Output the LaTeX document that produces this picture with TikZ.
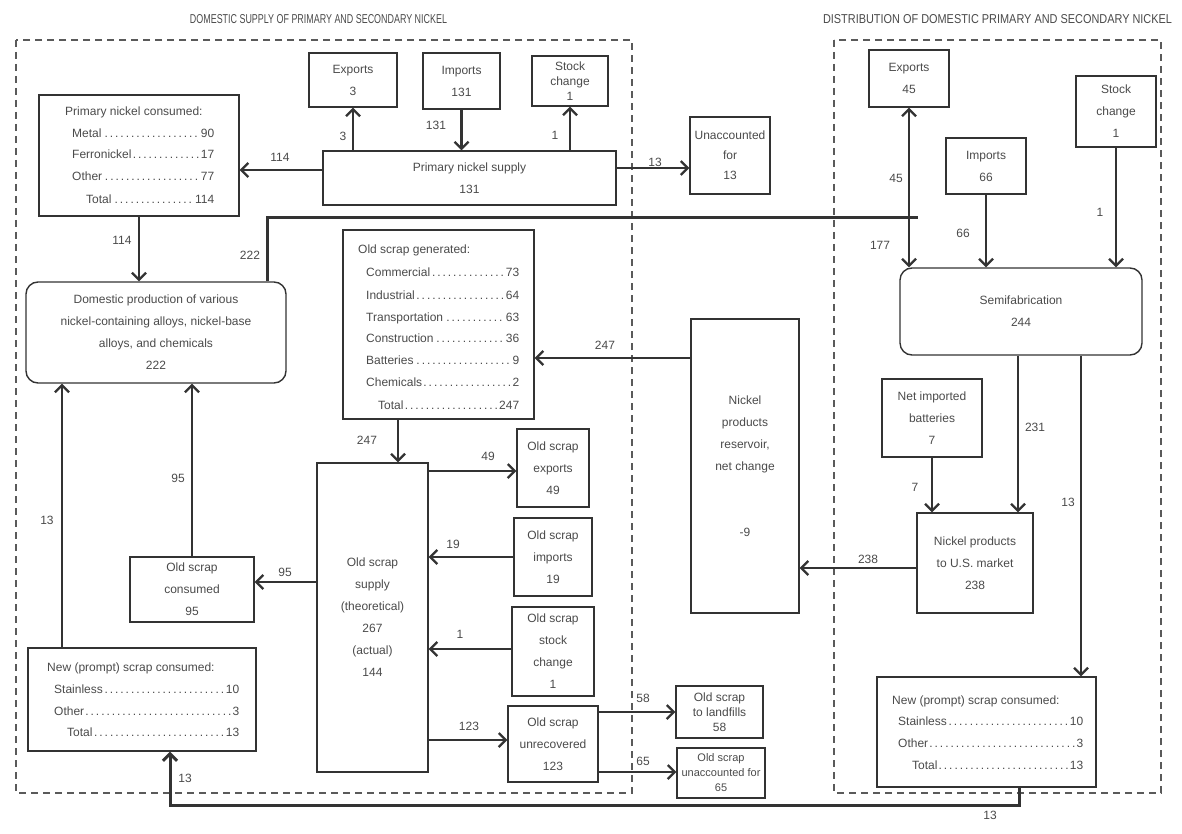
\documentclass[tikz,border=0pt]{standalone}
\usepackage{fontspec}
\usepackage{graphicx}
\setmainfont{Liberation Sans}
\usetikzlibrary{arrows.meta,calc}
\definecolor{ln}{HTML}{333333}
\definecolor{tx}{HTML}{4A4A4A}
\definecolor{dsh}{HTML}{5A5A5A}
\begin{document}
\begin{tikzpicture}[x=1pt,y=-1pt,
  font=\fontsize{12}{22}\selectfont, text=tx,
  >={Straight Barb[length=7pt,width=14pt]},
  box/.style={draw=ln, line width=1.4pt, inner sep=0pt, align=center},
  rbox/.style={box, rounded corners=12pt},
  tightbox/.style={box, font=\fontsize{12}{15}\selectfont},
  smallbox/.style={box, font=\fontsize{11}{15}\selectfont},
  midbox/.style={box, font=\fontsize{12}{20}\selectfont},
  arr/.style={draw=ln, line width=2.2pt, ->},
  darr/.style={draw=ln, line width=2.2pt, <->},
  heavy/.style={draw=ln, line width=3pt},
  lbl/.style={inner sep=0pt, font=\fontsize{12}{13}\selectfont},
  row/.style={anchor=base west, inner sep=0pt, font=\fontsize{12}{13}\selectfont},
  frame/.style={draw=dsh, line width=1.6pt, dash pattern=on 7pt off 5pt},
]
\useasboundingbox (0,0) rectangle (1182,834);

% helper coordinates
\coordinate (y168) at (0,168);
\coordinate (y170) at (0,170);
\coordinate (y358) at (0,358);
\coordinate (y471) at (0,471);
\coordinate (y557) at (0,557);
\coordinate (y568) at (0,568);
\coordinate (y582) at (0,582);
\coordinate (y649) at (0,649);
\coordinate (y712) at (0,712);
\coordinate (y740) at (0,740);
\coordinate (y772) at (0,772);
\coordinate (x62) at (62,0);
\coordinate (x398) at (398,0);
\coordinate (x1018) at (1018,0);
\coordinate (x1081) at (1081,0);
\coordinate (c222a) at (267,218);
\coordinate (c222b) at (918,218);
\coordinate (b13a) at (1019,805);
\coordinate (b13b) at (170,805);

% titles
\node[inner sep=0pt] (t1) at (318.5,19) {\resizebox{257pt}{9pt}{DOMESTIC SUPPLY OF PRIMARY AND SECONDARY NICKEL}};
\node[inner sep=0pt] (t2) at (997.5,19) {\resizebox{349pt}{9pt}{DISTRIBUTION OF DOMESTIC PRIMARY AND SECONDARY NICKEL}};

% frames
\draw[frame] (16,40) rectangle (632,793);
\draw[frame] (834,40) rectangle (1161,793);

% ---- top left
\node[box, minimum width=200pt, minimum height=121pt] (pnc) at (139,155.5) {};
\node[row] (pnc0) at (65,116) {Primary nickel consumed:};
\node[row] (pnc1) at (72,138) {\hbox to 142pt{Metal\dotfill 90}};
\node[row] (pnc2) at (72,159) {\hbox to 142pt{Ferronickel\dotfill 17}};
\node[row] (pnc3) at (72,181) {\hbox to 142pt{Other\dotfill 77}};
\node[row] (pnc4) at (86,204) {\hbox to 128pt{Total\dotfill 114}};

\node[box, minimum width=88pt, minimum height=54pt] (exp1) at (353,80) {Exports\\3};
\node[box, minimum width=77pt, minimum height=56pt] (imp1) at (461.5,81) {Imports\\131};
\node[tightbox, minimum width=76pt, minimum height=50pt] (stk1) at (570,81) {Stock\\change\\1};
\node[box, minimum width=293pt, minimum height=54pt] (pns) at (469.5,178) {Primary nickel supply\\131};
\node[midbox, minimum width=80pt, minimum height=77pt] (una) at (730,155.5) {Unaccounted\\for\\13};

\node[rbox, minimum width=260pt, minimum height=101pt] (dp) at (156,332.5)
  {Domestic production of various\\nickel-containing alloys, nickel-base\\alloys, and chemicals\\222};

% old scrap generated
\node[box, minimum width=191pt, minimum height=189pt] (osg) at (438.5,324.5) {};
\node[row] (osg0) at (358,254) {Old scrap generated:};
\node[row] (osg1) at (366,276) {\hbox to 153pt{Commercial\dotfill 73}};
\node[row] (osg2) at (366,299) {\hbox to 153pt{Industrial\dotfill 64}};
\node[row] (osg3) at (366,321) {\hbox to 153pt{Transportation\dotfill 63}};
\node[row] (osg4) at (366,342) {\hbox to 153pt{Construction\dotfill 36}};
\node[row] (osg5) at (366,364) {\hbox to 153pt{Batteries\dotfill 9}};
\node[row] (osg6) at (366,386) {\hbox to 153pt{Chemicals\dotfill 2}};
\node[row] (osg7) at (378,409) {\hbox to 141pt{Total\dotfill 247}};

\node[box, minimum width=108pt, minimum height=294pt] (res) at (745,466)
  {Nickel\\products\\reservoir,\\net change\\[44pt]-9};

\node[box, minimum width=111pt, minimum height=309pt] (oss) at (372.5,617.5)
  {Old scrap\\supply\\(theoretical)\\267\\(actual)\\144};
\node[box, minimum width=72pt, minimum height=78pt] (ose) at (553,468) {Old scrap\\exports\\49};
\node[box, minimum width=78pt, minimum height=78pt] (osi) at (553,557) {Old scrap\\imports\\19};
\node[box, minimum width=82pt, minimum height=89pt] (osc) at (553,651.5) {Old scrap\\stock\\change\\1};
\node[box, minimum width=90pt, minimum height=76pt] (osu) at (553,744) {Old scrap\\unrecovered\\123};
\node[tightbox, minimum width=87pt, minimum height=52pt] (osl) at (719.5,712) {Old scrap\\to landfills\\58};
\node[smallbox, minimum width=88pt, minimum height=50pt] (osa) at (721,773) {Old scrap\\unaccounted for\\65};

\node[box, minimum width=124pt, minimum height=65pt] (osco) at (192,589.5) {Old scrap\\consumed\\95};

\node[box, minimum width=228pt, minimum height=103pt] (nsl) at (142,699.5) {};
\node[row] (nsl0) at (47,671) {New (prompt) scrap consumed:};
\node[row] (nsl1) at (54,693) {\hbox to 185pt{Stainless\dotfill 10}};
\node[row] (nsl2) at (54,715) {\hbox to 185pt{Other\dotfill 3}};
\node[row] (nsl3) at (67,736) {\hbox to 172pt{Total\dotfill 13}};

% ---- right side
\node[box, minimum width=80pt, minimum height=57pt] (exp2) at (909,78.5) {Exports\\45};
\node[box, minimum width=80pt, minimum height=56pt] (imp2) at (986,166) {Imports\\66};
\node[box, minimum width=80pt, minimum height=71pt] (stk2) at (1116,111.5) {Stock\\change\\1};
\node[rbox, minimum width=242pt, minimum height=87pt] (semi) at (1021,311.5) {Semifabrication\\244};
\node[box, minimum width=100pt, minimum height=78pt] (nib) at (932,418) {Net imported\\batteries\\7};
\node[box, minimum width=116pt, minimum height=100pt] (npu) at (975,563) {Nickel products\\to U.S. market\\238};

\node[box, minimum width=219pt, minimum height=110pt] (nsr) at (986.5,732) {};
\node[row] (nsr0) at (892,704) {New (prompt) scrap consumed:};
\node[row] (nsr1) at (898,725) {\hbox to 185pt{Stainless\dotfill 10}};
\node[row] (nsr2) at (898,747) {\hbox to 185pt{Other\dotfill 3}};
\node[row] (nsr3) at (912,769) {\hbox to 171pt{Total\dotfill 13}};

% ---- connectors
\draw[arr] (pns.west |- y170) -- (pnc.east |- y170);
\draw[arr] (exp1.south |- pns.north) -- (exp1.south);
\draw[arr] (imp1.south) -- (imp1.south |- pns.north);
\draw[arr] (stk1.south |- pns.north) -- (stk1.south);
\draw[arr] (pns.east |- y168) -- (una.west |- y168);
\draw[arr] (pnc.south) -- (pnc.south |- dp.north);
\draw[heavy] (dp.north -| c222a) -- (c222a) -- (c222b);
\draw[darr] (exp2.south) -- (exp2.south |- semi.north);
\draw[arr] (imp2.south) -- (imp2.south |- semi.north);
\draw[arr] (stk2.south) -- (stk2.south |- semi.north);
\draw[arr] (semi.south -| x1018) -- (npu.north -| x1018);
\draw[arr] (semi.south -| x1081) -- (nsr.north -| x1081);
\draw[arr] (nib.south) -- (nib.south |- npu.north);
\draw[arr] (npu.west |- y568) -- (res.east |- y568);
\draw[arr] (res.west |- y358) -- (osg.east |- y358);
\draw[arr] (osg.south -| x398) -- (oss.north -| x398);
\draw[arr] (oss.east |- y471) -- (ose.west |- y471);
\draw[arr] (osi.west |- y557) -- (oss.east |- y557);
\draw[arr] (osc.west |- y649) -- (oss.east |- y649);
\draw[arr] (oss.east |- y740) -- (osu.west |- y740);
\draw[arr] (osu.east |- y712) -- (osl.west |- y712);
\draw[arr] (osu.east |- y772) -- (osa.west |- y772);
\draw[arr] (oss.west |- y582) -- (osco.east |- y582);
\draw[arr] (osco.north) -- (osco.north |- dp.south);
\draw[arr] (nsl.north -| x62) -- (dp.south -| x62);
\draw[heavy, ->] (nsr.south -| b13a) -- (b13a) -- (b13b) -- (nsl.south -| b13b);

% ---- flow labels
\node[lbl] (l1) at (280,157) {114};
\node[lbl] (l2) at (343,136) {3};
\node[lbl] (l3) at (436,125) {131};
\node[lbl] (l4) at (555,135) {1};
\node[lbl] (l5) at (655,162) {13};
\node[lbl] (l6) at (122,240) {114};
\node[lbl] (l7) at (250,255) {222};
\node[lbl] (l8) at (896,178) {45};
\node[lbl] (l9) at (880,245) {177};
\node[lbl] (l10) at (963,233) {66};
\node[lbl] (l11) at (1100,212) {1};
\node[lbl] (l12) at (1035,427) {231};
\node[lbl] (l13) at (1068,502) {13};
\node[lbl] (l14) at (915,487) {7};
\node[lbl] (l15) at (868,559) {238};
\node[lbl] (l16) at (605,345) {247};
\node[lbl] (l17) at (367,440) {247};
\node[lbl] (l18) at (488,456) {49};
\node[lbl] (l19) at (453,544) {19};
\node[lbl] (l20) at (460,634) {1};
\node[lbl] (l21) at (469,726) {123};
\node[lbl] (l22) at (643,698) {58};
\node[lbl] (l23) at (643,761) {65};
\node[lbl] (l24) at (285,572) {95};
\node[lbl] (l25) at (178,478) {95};
\node[lbl] (l26) at (47,520) {13};
\node[lbl] (l27) at (990,815) {13};
\node[lbl] (l28) at (185,778) {13};
\end{tikzpicture}
\end{document}
